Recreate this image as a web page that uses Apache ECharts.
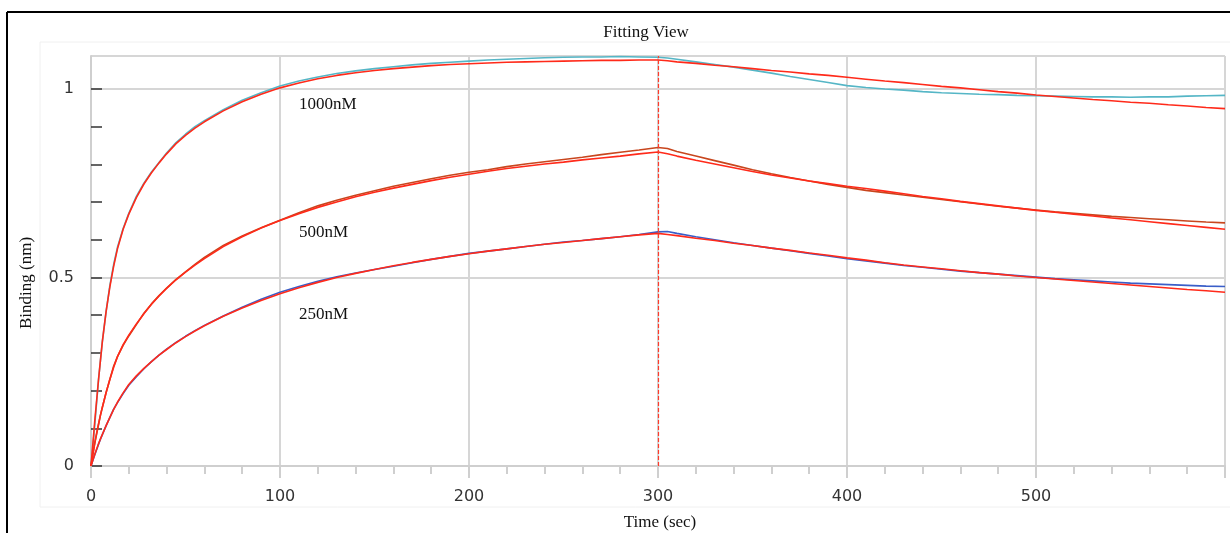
<!DOCTYPE html>
<html>
<head>
<meta charset="utf-8">
<script src="https://cdn.jsdelivr.net/npm/echarts@6/dist/echarts.min.js"></script>
<style>
  html, body { margin: 0; padding: 0; background: #fff; }
  #chart { width: 1230px; height: 533px; }
</style>
</head>
<body>
<div id="chart"></div>
<script>
// Time points (s): association phase and dissociation phase
const tAssoc = [0,1,2,3,4,5,6,8,10,12,14,17,20,24,28,32,36,40,45,50,55,60,70,80,90,100,110,120,130,140,150,160,170,180,190,200,210,220,230,240,250,260,270,280,290,300];
const tDissoc = [305,310,320,330,340,350,360,370,380,390,400,410,420,430,440,450,460,470,480,490,500,510,520,530,540,550,560,570,580,590,600];

// Measured binding (nm)
const data1000Assoc = [0,0.05,0.11,0.17,0.23,0.28,0.33,0.41,0.48,0.535,0.58,0.63,0.67,0.715,0.75,0.78,0.805,0.83,0.858,0.88,0.9,0.916,0.945,0.97,0.99,1.008,1.021,1.032,1.041,1.048,1.054,1.059,1.064,1.068,1.071,1.074,1.077,1.079,1.081,1.083,1.084,1.085,1.085,1.086,1.085,1.084];
const data1000Dissoc = [1.082,1.079,1.072,1.065,1.058,1.05,1.042,1.033,1.025,1.017,1.009,1.004,1.0,0.997,0.993,0.99,0.988,0.986,0.985,0.983,0.982,0.981,0.98,0.979,0.979,0.978,0.979,0.979,0.981,0.982,0.983];
const data500Assoc = [0,0.03,0.06,0.085,0.11,0.135,0.155,0.195,0.23,0.265,0.29,0.32,0.345,0.375,0.405,0.43,0.452,0.472,0.495,0.515,0.535,0.553,0.585,0.61,0.632,0.652,0.672,0.69,0.705,0.718,0.73,0.742,0.752,0.762,0.771,0.779,0.786,0.794,0.801,0.807,0.813,0.819,0.826,0.832,0.838,0.845];
const data500Dissoc = [0.842,0.834,0.822,0.81,0.798,0.786,0.775,0.765,0.756,0.747,0.739,0.731,0.725,0.719,0.713,0.707,0.701,0.695,0.689,0.684,0.679,0.674,0.67,0.666,0.662,0.659,0.656,0.653,0.65,0.647,0.645];
const data250Assoc = [0,0.015,0.03,0.044,0.058,0.071,0.083,0.107,0.129,0.151,0.168,0.192,0.214,0.237,0.258,0.277,0.294,0.31,0.328,0.344,0.359,0.373,0.398,0.421,0.442,0.461,0.476,0.49,0.502,0.512,0.521,0.53,0.539,0.548,0.556,0.564,0.57,0.576,0.582,0.588,0.594,0.598,0.603,0.608,0.614,0.621];
const data250Dissoc = [0.622,0.617,0.608,0.6,0.592,0.585,0.578,0.571,0.564,0.557,0.55,0.544,0.538,0.532,0.527,0.522,0.517,0.513,0.509,0.505,0.501,0.497,0.494,0.491,0.488,0.485,0.483,0.481,0.479,0.477,0.476];

// Fitted curves (nm)
const fit1000Assoc = [0,0.06,0.12,0.175,0.23,0.28,0.33,0.41,0.476,0.53,0.576,0.628,0.668,0.712,0.748,0.778,0.804,0.828,0.855,0.877,0.896,0.913,0.942,0.966,0.986,1.003,1.016,1.027,1.036,1.043,1.049,1.054,1.058,1.062,1.065,1.067,1.069,1.071,1.072,1.073,1.074,1.075,1.076,1.076,1.077,1.077];
const fit1000Dissoc = [1.075,1.072,1.068,1.063,1.059,1.054,1.049,1.045,1.04,1.036,1.031,1.026,1.021,1.017,1.012,1.007,1.003,0.998,0.993,0.989,0.984,0.98,0.976,0.972,0.969,0.965,0.962,0.958,0.955,0.951,0.948];
const fit500Assoc = [0,0.032,0.062,0.088,0.112,0.135,0.156,0.195,0.23,0.262,0.29,0.322,0.347,0.377,0.404,0.429,0.451,0.471,0.494,0.514,0.533,0.55,0.582,0.608,0.631,0.651,0.669,0.686,0.7,0.714,0.726,0.737,0.747,0.757,0.766,0.774,0.782,0.789,0.795,0.801,0.806,0.812,0.817,0.822,0.828,0.833];
const fit500Dissoc = [0.828,0.822,0.811,0.801,0.791,0.781,0.772,0.764,0.756,0.749,0.742,0.736,0.729,0.722,0.715,0.709,0.702,0.696,0.69,0.684,0.678,0.673,0.668,0.663,0.658,0.653,0.648,0.643,0.638,0.633,0.628];
const fit250Assoc = [0,0.016,0.031,0.045,0.059,0.072,0.084,0.107,0.129,0.15,0.169,0.194,0.216,0.239,0.259,0.277,0.294,0.309,0.327,0.343,0.358,0.372,0.397,0.419,0.439,0.457,0.473,0.487,0.5,0.511,0.521,0.531,0.54,0.548,0.556,0.563,0.57,0.576,0.582,0.588,0.593,0.598,0.603,0.608,0.613,0.617];
const fit250Dissoc = [0.614,0.611,0.604,0.598,0.591,0.585,0.578,0.572,0.565,0.559,0.552,0.546,0.539,0.533,0.528,0.523,0.518,0.513,0.509,0.504,0.5,0.496,0.492,0.488,0.484,0.48,0.476,0.472,0.468,0.465,0.461];

const concLabels = ['1000nM', '500nM', '250nM'];
const phaseSwitch = 300;
const xTickLabels = ['0', '100', '200', '300', '400', '500'];
const yTickLabels = ['0', '0.5', '1'];

const SERIF = '"Liberation Serif", "DejaVu Serif", serif';
const SANS = '"DejaVu Sans", Verdana, sans-serif';

function pairs(ts, vs) { return ts.map((t, i) => [t, vs[i]]); }
function full(assocVals, dissocVals) {
  return pairs(tAssoc, assocVals).concat(pairs(tDissoc, dissocVals));
}

function lineSeries(name, data, color, z) {
  return {
    name: name, type: 'line', data: data, showSymbol: false, symbol: 'none',
    lineStyle: { color: color, width: 1.6 }, z: z, animation: false,
    xAxisIndex: 0, yAxisIndex: 0
  };
}

const chart = echarts.init(document.getElementById('chart'), null, { renderer: 'canvas' });

const fitRed = '#ff2a1a';
const series = [
  lineSeries(concLabels[0] + ' data', full(data1000Assoc, data1000Dissoc), '#55b6c6', 2),
  lineSeries(concLabels[1] + ' data', full(data500Assoc, data500Dissoc), '#c8461e', 2),
  lineSeries(concLabels[2] + ' data', full(data250Assoc, data250Dissoc), '#3a5ec8', 2),
  lineSeries(concLabels[0] + ' fit', full(fit1000Assoc, fit1000Dissoc), fitRed, 3),
  lineSeries(concLabels[1] + ' fit', full(fit500Assoc, fit500Dissoc), fitRed, 3),
  lineSeries(concLabels[2] + ' fit', full(fit250Assoc, fit250Dissoc), fitRed, 3)
];
// dashed marker at the switch from association to dissociation
series[3].markLine = {
  silent: true, symbol: 'none', animation: false,
  label: { show: false },
  lineStyle: { color: '#ff3b2a', type: [4, 2], width: 1.2 },
  data: [{ xAxis: phaseSwitch }]
};

const option = {
  backgroundColor: '#ffffff',
  animation: false,
  title: {
    text: 'Fitting View', left: 641, top: 19, textAlign: 'center',
    textStyle: { fontFamily: SERIF, fontSize: 17, fontWeight: 'normal', color: '#111' }
  },
  grid: [
    { left: 91, top: 56, right: 5, bottom: 67, containLabel: false, outerBoundsMode: 'none' },
    // companion grid spanning 0..1 used only for the y tick marks
    { left: 91, top: 89, right: 5, bottom: 67, containLabel: false, outerBoundsMode: 'none' }
  ],
  xAxis: [
    {
      type: 'value', gridIndex: 0, min: 0, max: 600, interval: 100,
      axisLine: { show: true, lineStyle: { color: '#cfcfcf', width: 2 } },
      axisTick: { show: true, inside: false, length: 12, lineStyle: { color: '#cfcfcf', width: 2 } },
      minorTick: { show: true, splitNumber: 5, length: 8, lineStyle: { color: '#cfcfcf', width: 2 } },
      axisLabel: {
        margin: 23, fontFamily: SANS, fontSize: 16, color: '#333', showMaxLabel: false,
        formatter: v => xTickLabels[Math.round(v / 100)] || ''
      },
      splitLine: { show: true, lineStyle: { color: '#d6d6d6', width: 2 } }
    },
    { type: 'value', gridIndex: 1, min: 0, max: 600, show: false }
  ],
  yAxis: [
    {
      type: 'value', gridIndex: 0, min: 0, max: 1.0875, interval: 0.5,
      axisLine: { show: true, lineStyle: { color: '#cfcfcf', width: 2 } },
      axisTick: { show: false },
      axisLabel: {
        margin: 17, fontFamily: SANS, fontSize: 16, color: '#333', showMaxLabel: false,
        formatter: v => yTickLabels[Math.round(v * 2)] || ''
      },
      splitLine: { show: true, lineStyle: { color: '#d6d6d6', width: 2 } }
    },
    {
      type: 'value', gridIndex: 1, min: 0, max: 1, interval: 0.1,
      axisLine: { show: false },
      axisTick: { show: true, inside: true, length: 11, lineStyle: { color: '#333', width: 1.5 } },
      axisLabel: { show: false },
      splitLine: { show: false }
    }
  ],
  series: series,
  graphic: [
    // outer frame (top and left edges)
    { type: 'line', shape: { x1: 7, y1: 12, x2: 1230, y2: 12 }, style: { stroke: '#000', lineWidth: 2 }, silent: true },
    { type: 'line', shape: { x1: 7, y1: 12, x2: 7, y2: 533 }, style: { stroke: '#000', lineWidth: 2 }, silent: true },
    // faint inner panel
    { type: 'rect', shape: { x: 40, y: 42, width: 1200, height: 465 }, style: { fill: 'none', stroke: '#f0f0f0', lineWidth: 1 }, silent: true, z: -1 },
    // axis titles
    { type: 'text', x: 660, y: 523, silent: true,
      style: { text: 'Time (sec)', fontFamily: SERIF, fontSize: 17, fill: '#111', align: 'center', verticalAlign: 'middle' } },
    { type: 'text', x: 27, y: 283, rotation: Math.PI / 2, silent: true,
      style: { text: 'Binding (nm)', fontFamily: SERIF, fontSize: 17, fill: '#111', align: 'center', verticalAlign: 'middle' } }
  ]
};

chart.setOption(option);

// concentration labels placed in data coordinates
const labelAnchors = [[110, 0.958], [110, 0.62], [110, 0.403]];
const labelGraphics = concLabels.map((txt, i) => {
  const p = chart.convertToPixel({ gridIndex: 0 }, labelAnchors[i]);
  return {
    type: 'text', x: p[0], y: p[1], silent: true, z: 10,
    style: { text: txt, fontFamily: SERIF, fontSize: 17, fill: '#111', verticalAlign: 'middle', align: 'left' }
  };
});
chart.setOption({ graphic: option.graphic.concat(labelGraphics) });
</script>
</body>
</html>
